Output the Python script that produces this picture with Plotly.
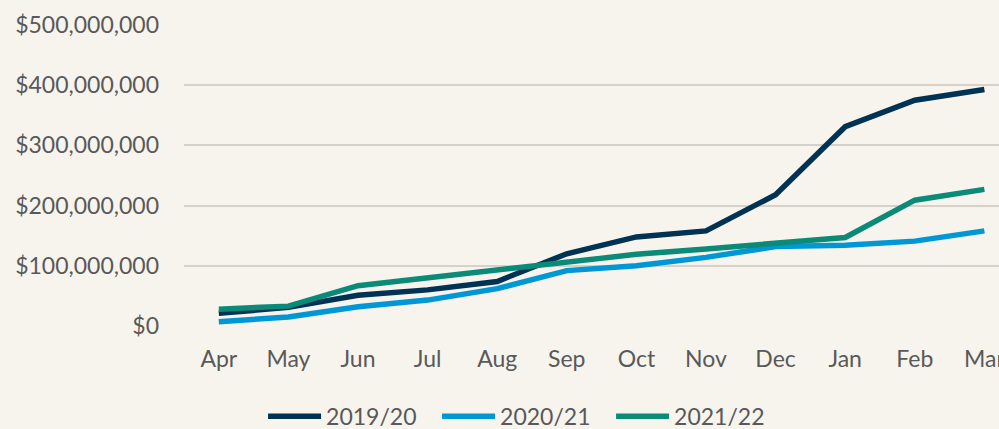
import plotly.graph_objects as go

# Monthly cumulative values by financial year
months = ["Apr", "May", "Jun", "Jul", "Aug", "Sep", "Oct", "Nov", "Dec", "Jan", "Feb", "Mar"]
fy_2019_20 = [21e6, 31e6, 51e6, 60e6, 74e6, 120e6, 148e6, 158e6, 218e6, 331e6, 375e6, 393e6]
fy_2020_21 = [7e6, 15e6, 32e6, 43e6, 62e6, 92e6, 100e6, 114e6, 132e6, 134e6, 141e6, 158e6]
fy_2021_22 = [28e6, 33e6, 67e6, 80e6, 95e6, 106e6, 119e6, 128e6, 138e6, 147e6, 209e6, 227e6]
y_ticks = [0, 100e6, 200e6, 300e6, 400e6, 500e6]
y_tick_text = ["$0", "$100,000,000", "$200,000,000", "$300,000,000", "$400,000,000", "$500,000,000"]

series = [
    ("2019/20", fy_2019_20, "#003253"),
    ("2020/21", fy_2020_21, "#0098d4"),
    ("2021/22", fy_2021_22, "#0b8a78"),
]

font_family = "Lato, 'Open Sans', sans-serif"
text_color = "#595959"
bg = "#f7f4ed"
fs = 23

fig = go.Figure()
for name, vals, color in series:
    fig.add_trace(go.Scatter(
        x=months, y=vals, name=name, mode="lines",
        line=dict(color=color, width=5.5),
    ))

fig.update_layout(
    width=999, height=429,
    paper_bgcolor=bg, plot_bgcolor=bg,
    margin=dict(l=184, r=0, t=25, b=103, autoexpand=False),
    font=dict(family=font_family, size=fs, color=text_color),
    showlegend=True,
    legend=dict(
        orientation="h", x=0.097, xanchor="left", y=-0.30, yanchor="middle",
        font=dict(size=fs, color=text_color), bgcolor="rgba(0,0,0,0)",
        itemwidth=53, entrywidth=106, entrywidthmode="pixels",
        traceorder="normal",
    ),
    xaxis=dict(
        type="category", range=[-0.5, 11.21], showgrid=False, zeroline=False,
        showline=False, ticks="", ticklabelstandoff=17, automargin=False,
        tickfont=dict(size=fs, color=text_color),
    ),
    yaxis=dict(
        range=[0, 500e6], tickvals=y_ticks, ticktext=y_tick_text,
        showgrid=True, gridcolor="#d6d2ca", gridwidth=1.5, zeroline=False,
        showline=False, ticks="", ticklabelstandoff=24, automargin=False,
        tickfont=dict(size=fs, color=text_color),
    ),
)

fig.write_html("out.html")
